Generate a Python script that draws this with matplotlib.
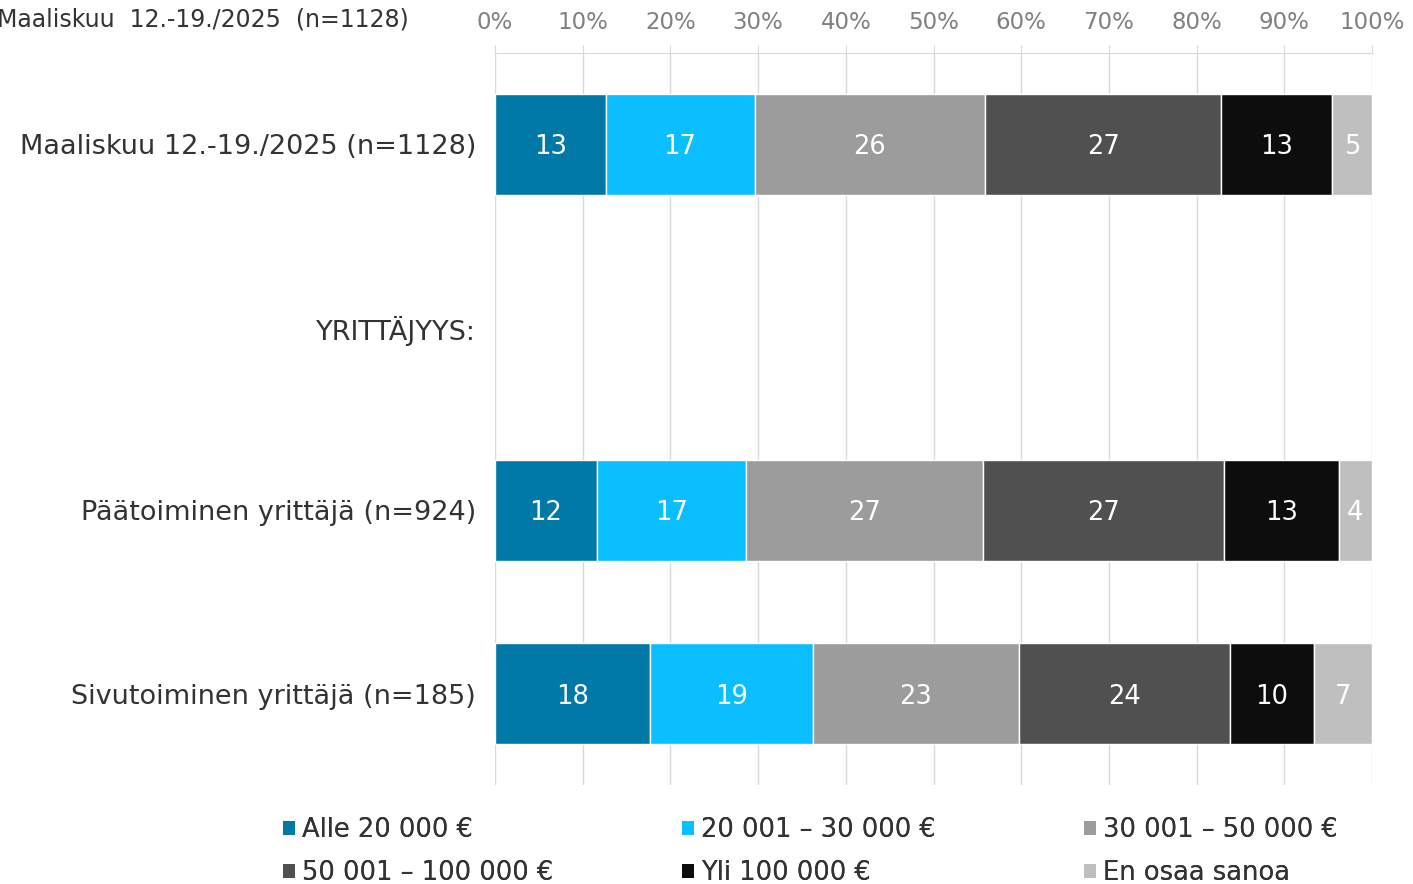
import matplotlib.pyplot as plt
import numpy as np

categories = ["Maaliskuu 12.-19./2025 (n=1128)", "YRITTÄJYYS:",
              "Päätoiminen yrittäjä (n=924)", "Sivutoiminen yrittäjä (n=185)"]
series = ["Alle 20 000 €", "20 001 – 30 000 €", "30 001 – 50 000 €",
          "50 001 – 100 000 €", "Yli 100 000 €", "En osaa sanoa"]
colors = ["#0079A6", "#0ABEFF", "#9C9C9C", "#505050", "#0D0D0D", "#BFBFBF"]

# widths (None = heading row without bar)
row_values = [
    [12.6, 17.0, 26.3, 26.9, 12.6, 4.6],
    None,
    [11.6, 17.0, 27.1, 27.4, 13.1, 3.8],
    [17.7, 18.6, 23.4, 24.1, 9.6, 6.6],
]
row_labels = [
    [13, 17, 26, 27, 13, 5],
    None,
    [12, 17, 27, 27, 13, 4],
    [18, 19, 23, 24, 10, 7],
]
xticks = [0, 10, 20, 30, 40, 50, 60, 70, 80, 90, 100]

fig = plt.figure(figsize=(14.13, 8.84), dpi=100)
ax = fig.add_axes([495 / 1413, 1 - 785 / 884, 877 / 1413, 732 / 884])

handles = []
for s in range(len(series)):
    for r, vals in enumerate(row_values):
        if vals is None:
            continue
        left = sum(vals[:s])
        b = ax.barh(r, vals[s], left=left, height=0.55, color=colors[s],
                    edgecolor="white", linewidth=1, zorder=3)
        ax.text(left + vals[s] / 2, r, str(row_labels[r][s]),
                ha="center", va="center_baseline", color="white",
                fontsize=18.5, zorder=4)
    handles.append(b)

ax.set_xlim(0, 100)
ax.set_ylim(3.5, -0.5)
ax.set_yticks(range(len(categories)))
ax.set_yticklabels(categories, fontsize=19.5, color="#333333")
ax.tick_params(axis="y", length=0, pad=13.5)
ax.xaxis.tick_top()
ax.set_xticks(xticks)
ax.set_xticklabels([f"{t}%" for t in xticks], fontsize=16.5, color="#808080")
ax.tick_params(axis="x", length=6, color="#D9D9D9", pad=8)
ax.grid(axis="x", color="#D9D9D9", linewidth=1, zorder=0)
for side in ["right", "bottom", "left"]:
    ax.spines[side].set_visible(False)
ax.spines["top"].set_color("#D9D9D9")

fig.text(-0.002, 1 - 20 / 884, "Maaliskuu  12.-19./2025  (n=1128)",
         fontsize=17, color="#333333", va="center", ha="left")

# legend: three columns, filled row by row
col_x = [283, 682, 1084]
for c in range(3):
    idx = [c, c + 3]
    leg = fig.legend([handles[i] for i in idx], [series[i] for i in idx],
                     loc="lower left", bbox_to_anchor=(col_x[c] / 1413, -0.002),
                     frameon=False, fontsize=18.5, handlelength=0.45,
                     handleheight=0.45, handletextpad=0.3,
                     labelcolor="#333333", borderaxespad=0, borderpad=0,
                     labelspacing=0.66)
    for h in leg.legend_handles:
        h.set_edgecolor("none")
    fig.add_artist(leg)

fig.savefig("out.png", dpi=100)
